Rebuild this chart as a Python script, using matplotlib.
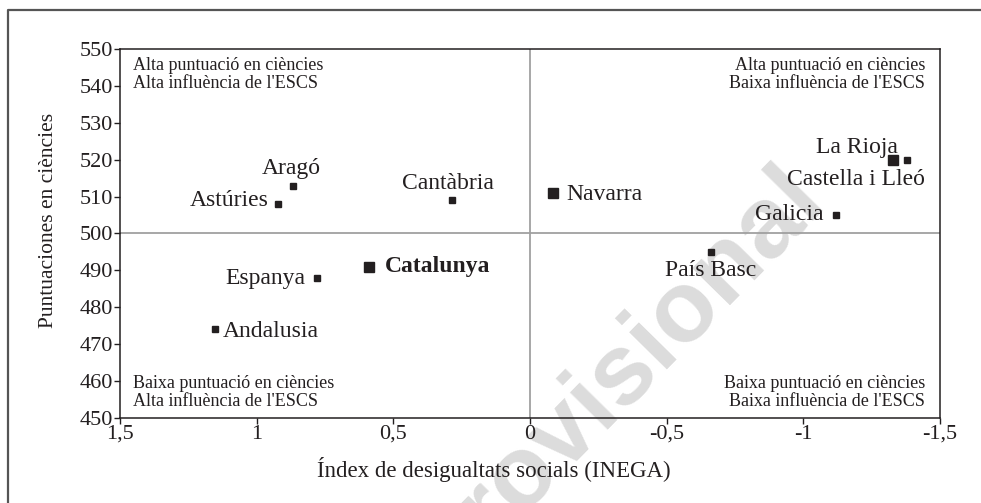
import matplotlib.pyplot as plt
from matplotlib.lines import Line2D

# regions: INEGA index (x) vs science score (y)
regions = ['Aragó', 'Astúries', 'Cantàbria', 'Navarra', 'La Rioja', 'Castella i Lleó',
           'Galicia', 'País Basc', 'Catalunya', 'Espanya', 'Andalusia']
inega = [0.867, 0.922, 0.285, -0.084, -1.328, -1.38, -1.12, -0.662, 0.589, 0.779, 1.152]
score = [513, 508, 509, 511, 520, 520, 505, 495, 491, 488, 474]
big = ['Navarra', 'La Rioja', 'Catalunya']

xticks = [1.5, 1, 0.5, 0, -0.5, -1, -1.5]
xticklabels = ['1,5', '1', '0,5', '0', '-0,5', '-1', '-1,5']
yticks = [450, 460, 470, 480, 490, 500, 510, 520, 530, 540, 550]

quad_top = ['Alta puntuació en ciències', 'Alta puntuació en ciències']
quad_bottom = ['Baixa puntuació en ciències', 'Baixa puntuació en ciències']
quad_left = "Alta influència de l'ESCS"
quad_right = "Baixa influència de l'ESCS"

# label placement: (dx, dy in points to baseline, ha)
place = {
    'Aragó': (-1, 8, 'center'),
    'Astúries': (-7, -1.5, 'right'),
    'Cantàbria': (-3, 8, 'center'),
    'Navarra': (10, -5, 'left'),
    'La Rioja': (3.6, 5, 'right'),
    'Castella i Lleó': (13, -18.5, 'right'),
    'Galicia': (-9.4, -3.6, 'right'),
    'País Basc': (0, -17, 'center'),
    'Catalunya': (11.5, -3.6, 'left'),
    'Espanya': (-8.6, -4.3, 'right'),
    'Andalusia': (5.8, -5.8, 'left'),
}

plt.rcParams['font.family'] = ['Liberation Serif', 'DejaVu Serif']
ink = '#231f20'

fig = plt.figure(figsize=(9.81, 5.03), dpi=100)
ax = fig.add_axes([0.1223, 0.169, 0.8359, 0.7336])
ax.set_facecolor('none')

# watermark, behind the marks
ax.text(0.628, 0.25, 'Provisional', transform=fig.transFigure, fontsize=73,
        fontweight='bold', family='Liberation Sans', color='#dcdcdc', rotation=45.5,
        ha='center', va='center', rotation_mode='anchor', zorder=0.5, clip_on=False)

ax.axvline(0, color='#a0a0a0', lw=1.3, zorder=1)
ax.axhline(500, color='#a0a0a0', lw=1.3, zorder=1)

for name, x, y in zip(regions, inega, score):
    ms = 6.5 if name in big else 4.5
    ax.plot(x, y, 's', color=ink, ms=ms, mec=ink, zorder=3)
    dx, dy, ha = place[name]
    ax.annotate(name, (x, y), xytext=(dx, dy), textcoords='offset points',
                ha=ha, va='baseline', fontsize=17, color=ink,
                fontweight='bold' if name == 'Catalunya' else 'normal', zorder=4)

qs = 13
ax.text(0.0159, 0.943, quad_top[0], transform=ax.transAxes, ha='left', va='baseline',
        fontsize=qs, color=ink)
ax.text(0.0159, 0.894, quad_left, transform=ax.transAxes, ha='left', va='baseline',
        fontsize=qs, color=ink)
ax.text(0.9817, 0.943, quad_top[1], transform=ax.transAxes, ha='right', va='baseline',
        fontsize=qs, color=ink)
ax.text(0.9817, 0.894, quad_right, transform=ax.transAxes, ha='right', va='baseline',
        fontsize=qs, color=ink)
ax.text(0.0159, 0.0813, quad_bottom[0], transform=ax.transAxes, ha='left', va='baseline',
        fontsize=qs, color=ink)
ax.text(0.0159, 0.0325, quad_left, transform=ax.transAxes, ha='left', va='baseline',
        fontsize=qs, color=ink)
ax.text(0.9817, 0.0813, quad_bottom[1], transform=ax.transAxes, ha='right', va='baseline',
        fontsize=qs, color=ink)
ax.text(0.9817, 0.0325, quad_right, transform=ax.transAxes, ha='right', va='baseline',
        fontsize=qs, color=ink)

ax.set_xlim(1.5, -1.5)
ax.set_ylim(450, 550)
ax.set_xticks(xticks)
ax.set_xticklabels(xticklabels)
ax.set_yticks(yticks)
ax.tick_params(direction='out', length=4, width=1, colors=ink, labelsize=16, pad=1)
for s in ax.spines.values():
    s.set_color(ink)
    s.set_linewidth(1.1)

ax.set_xlabel('Índex de desigualtats socials (INEGA)', fontsize=16.5, color=ink)
ax.set_ylabel('Puntuaciones en ciències', fontsize=15.5, color=ink)
ax.xaxis.set_label_coords(0.456, -0.107)
ax.yaxis.set_label_coords(-0.075, 0.535)

# outer frame (bottom and right fall outside the picture)
fx, fy = 8 / 981, 1 - 10 / 503
fig.add_artist(Line2D([fx, fx, 1.01], [-0.01, fy, fy], color='#555555', lw=1.6,
                      transform=fig.transFigure))

fig.savefig('out.png', dpi=100)
